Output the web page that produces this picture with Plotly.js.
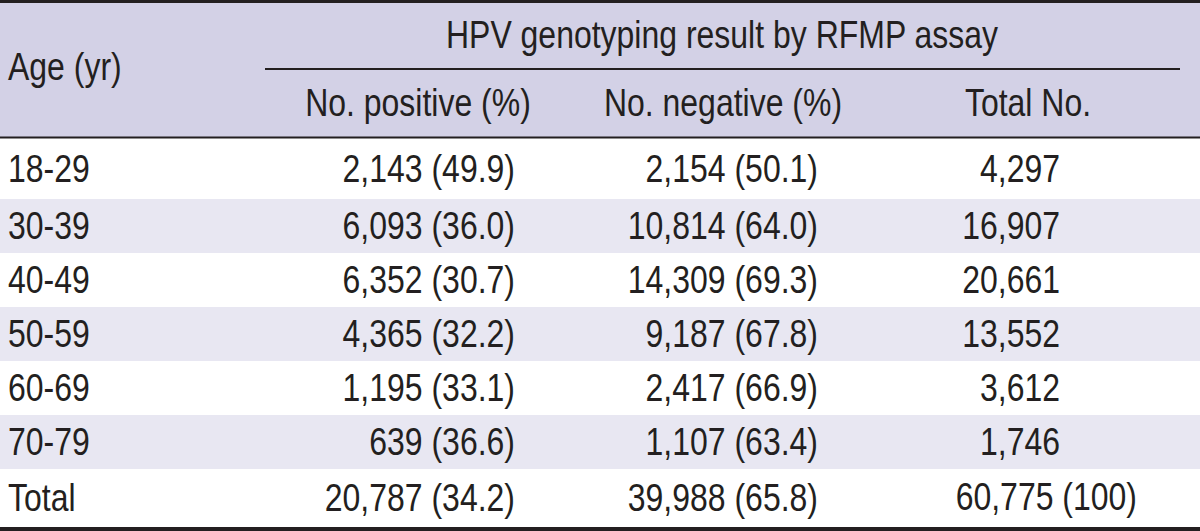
<!DOCTYPE html>
<html>
<head>
<meta charset="utf-8">
<script src="https://cdn.plot.ly/plotly-3.0.1.min.js"></script>
<style>html,body{margin:0;padding:0;background:#fff;}#chart{width:1200px;height:531px;}</style>
</head>
<body>
<div id="chart"></div>
<script>
// ---- data ----
const ageGroups = ["18-29", "30-39", "40-49", "50-59", "60-69", "70-79", "Total"];
const positiveN = ["2,143", "6,093", "6,352", "4,365", "1,195", "639", "20,787"];
const positivePct = ["49.9", "36.0", "30.7", "32.2", "33.1", "36.6", "34.2"];
const negativeN = ["2,154", "10,814", "14,309", "9,187", "2,417", "1,107", "39,988"];
const negativePct = ["50.1", "64.0", "69.3", "67.8", "66.9", "63.4", "65.8"];
const totalN = ["4,297", "16,907", "20,661", "13,552", "3,612", "1,746", "60,775 (100)"];
const spanHeader = "HPV genotyping result by RFMP assay";
const rowHeader = "Age (yr)";
const colHeaders = ["No. positive (%)", "No. negative (%)", "Total No."];

// ---- layout / style config ----
const W = 1200, H = 531;
const FONT = "'Liberation Sans', Arial, sans-serif";
const FS = 39;
const SQUEEZE = 0.82;
const TXT = "#231f20";
const HEADER_BG = "#d3d1e6";
const BAND_BG = "#e8e7f2";
const rowEdges = [139, 199, 253, 307, 361, 415, 469, 527];
const rowTextShift = 3;
const headerTop = 3, headerBottom = 137, spanLineY = 69;
const spanLineX = [265, 1180];
const colLeft0 = 8;
const colRight = [515, 818, 1060];
const totalRowRight4 = 1137;
const headerCenters = [418, 723, 1028];
const spanCenter = 722;

const rowCenters = ageGroups.map((_, i) => (rowEdges[i] + rowEdges[i + 1]) / 2 + rowTextShift);
const fnt = {family: FONT, size: FS, color: TXT};

const col2 = positiveN.map((n, i) => n + " (" + positivePct[i] + ")");
const col3 = negativeN.map((n, i) => n + " (" + negativePct[i] + ")");
const last = ageGroups.length - 1;

const traces = [
  {x: ageGroups.map(() => colLeft0), y: rowCenters, text: ageGroups, textposition: "middle right"},
  {x: col2.map(() => colRight[0]), y: rowCenters, text: col2, textposition: "middle left"},
  {x: col3.map(() => colRight[1]), y: rowCenters, text: col3, textposition: "middle left"},
  {x: totalN.slice(0, last).map(() => colRight[2]), y: rowCenters.slice(0, last), text: totalN.slice(0, last), textposition: "middle left"},
  {x: [totalRowRight4], y: [rowCenters[last] - 1], text: [totalN[last]], textposition: "middle left"},
  {x: [colLeft0], y: [(headerTop + headerBottom) / 2], text: [rowHeader], textposition: "middle right"},
  {x: [spanCenter], y: [(headerTop + spanLineY) / 2 + 2], text: [spanHeader], textposition: "middle center"},
  {x: headerCenters, y: headerCenters.map(() => (spanLineY + headerBottom) / 2 + 3), text: colHeaders, textposition: "middle center"}
].map(t => Object.assign(t, {type: "scatter", mode: "text", textfont: fnt, hoverinfo: "skip", showlegend: false, cliponaxis: false}));

const shapes = [];
shapes.push({type: "rect", xref: "x", yref: "y", x0: 0, x1: W, y0: headerTop, y1: headerBottom, fillcolor: HEADER_BG, line: {width: 0}, layer: "below"});
ageGroups.forEach((_, i) => {
  if (i % 2 === 1) shapes.push({type: "rect", xref: "x", yref: "y", x0: 0, x1: W, y0: rowEdges[i], y1: rowEdges[i + 1], fillcolor: BAND_BG, line: {width: 0}, layer: "below"});
});
shapes.push({type: "line", x0: 0, x1: W, y0: 1.5, y1: 1.5, line: {color: TXT, width: 3}});
shapes.push({type: "line", x0: spanLineX[0], x1: spanLineX[1], y0: spanLineY, y1: spanLineY, line: {color: TXT, width: 2}});
shapes.push({type: "line", x0: 0, x1: W, y0: headerBottom + 0.5, y1: headerBottom + 0.5, line: {color: TXT, width: 2}});
shapes.push({type: "line", x0: 0, x1: W, y0: 529, y1: 529, line: {color: TXT, width: 4}});

const layout = {
  width: W, height: H,
  margin: {l: 0, r: 0, t: 0, b: 0, pad: 0},
  paper_bgcolor: "#ffffff", plot_bgcolor: "#ffffff",
  xaxis: {range: [0, W], visible: false, fixedrange: true},
  yaxis: {range: [H, 0], visible: false, fixedrange: true},
  shapes: shapes, showlegend: false
};
Plotly.newPlot("chart", traces, layout, {staticPlot: true, displayModeBar: false}).then(gd => {
  // condense glyphs horizontally (the source uses a condensed typeface)
  gd.querySelectorAll("g.textpoint text").forEach(t => {
    const a = t.getAttribute("text-anchor");
    t.style.transformBox = "fill-box";
    t.style.transformOrigin = a === "end" ? "right center" : (a === "middle" ? "center center" : "left center");
    t.style.transform = "scaleX(" + SQUEEZE + ")";
  });
});
</script>
</body>
</html>
